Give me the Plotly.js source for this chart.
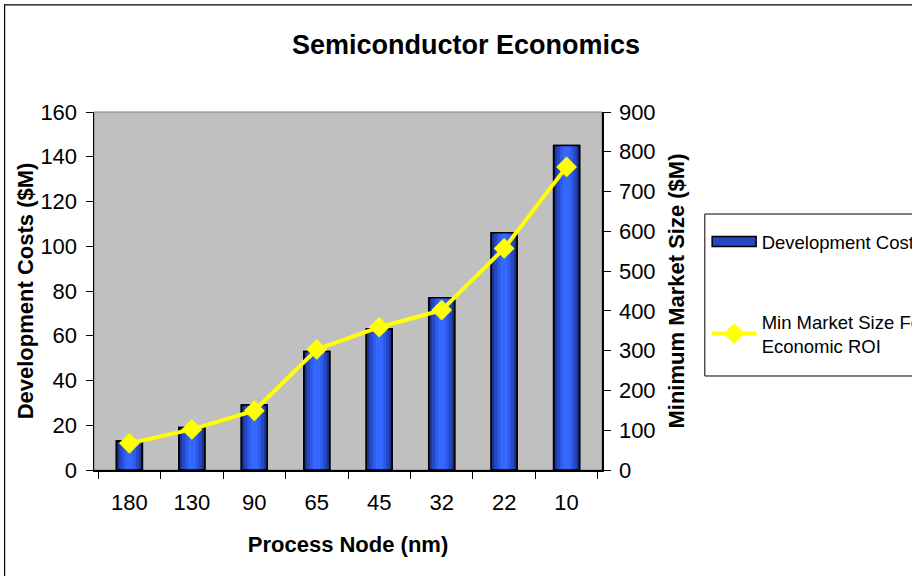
<!DOCTYPE html>
<html>
<head>
<meta charset="utf-8">
<script src="https://cdn.plot.ly/plotly-3.0.1.min.js"></script>
<style>html,body{margin:0;padding:0;background:#fff;}#chart{width:912px;height:576px;}</style>
</head>
<body>
<div id="chart"></div>
<script>
const nodes = ["180", "130", "90", "65", "45", "32", "22", "10"];
const devCosts = [13, 19, 29, 53, 63, 77, 106, 145];
const minMarket = [67, 102, 149, 303, 359, 402, 557, 762];
const yLeftTicks = [0, 20, 40, 60, 80, 100, 120, 140, 160];
const yRightTicks = [0, 100, 200, 300, 400, 500, 600, 700, 800, 900];

const FONT = "Liberation Sans, Arial, sans-serif";

const traces = [
  {type: "bar", x: nodes, y: devCosts, name: "Development Costs", width: 0.415,
   marker: {color: "#1c358f", line: {color: "#000", width: 1.5}}, legendgroup: "a", hoverinfo: "skip"},
  {type: "bar", x: nodes, y: devCosts, width: 0.32, showlegend: false,
   marker: {color: "#2647c4", line: {width: 0}}, hoverinfo: "skip"},
  {type: "bar", x: nodes, y: devCosts, width: 0.22, showlegend: false,
   marker: {color: "#2e5ae8", line: {width: 0}}, hoverinfo: "skip"},
  {type: "bar", x: nodes, y: devCosts, width: 0.12, showlegend: false,
   marker: {color: "#3468ff", line: {width: 0}}, hoverinfo: "skip"},
  {type: "bar", x: nodes, y: devCosts, width: 0.415, showlegend: false,
   marker: {color: "rgba(0,0,0,0)", line: {color: "#000", width: 1.5}}, hoverinfo: "skip"},
  {type: "scatter", mode: "lines+markers", x: nodes, y: minMarket, yaxis: "y2",
   name: "Min Market Size For<br>Economic ROI", legendgroup: "b",
   line: {color: "#ffff00", width: 4},
   marker: {symbol: "diamond", size: 16, color: "#ffff00"}}
];

const layout = {
  width: 912, height: 576,
  paper_bgcolor: "#ffffff", plot_bgcolor: "#c0c0c0",
  margin: {l: 94, r: 310, t: 112, b: 106, autoexpand: false},
  font: {family: FONT, color: "#000"},
  barmode: "overlay",
  title: {text: "<b>Semiconductor Economics</b>", font: {size: 27, family: FONT},
          x: 0.511, xref: "container", xanchor: "center", y: 0.922, yref: "container", yanchor: "middle"},
  xaxis: {type: "category", categoryorder: "array", categoryarray: nodes,
          showline: true, linecolor: "#000", linewidth: 1.5, ticks: "outside", ticklen: 7,
          tickson: "boundaries", tickcolor: "#000", tickfont: {size: 22}, showgrid: false,
          ticklabelstandoff: 12,
          title: {text: "<b>Process Node (nm)</b>", font: {size: 22}, standoff: 22}},
  yaxis: {range: [0, 160], tickvals: yLeftTicks, showline: true, linecolor: "#000", linewidth: 1.5,
          ticks: "outside", ticklen: 7, tickcolor: "#000", tickfont: {size: 22}, showgrid: false,
          zeroline: false, ticklabelstandoff: 4,
          title: {text: "<b>Development Costs ($M)</b>", font: {size: 22}, standoff: 0}},
  yaxis2: {range: [0, 900], tickvals: yRightTicks, overlaying: "y", side: "right",
           showline: true, linecolor: "#000", linewidth: 1.5, ticks: "outside", ticklen: 7,
           tickcolor: "#000", tickfont: {size: 22}, showgrid: false, zeroline: false, ticklabelstandoff: 4,
           title: {text: "<b>Minimum Market Size ($M)</b>", font: {size: 22}, standoff: 14}},
  legend: {x: 1.206, xanchor: "left", y: 0.69, yanchor: "top", bgcolor: "rgba(0,0,0,0)",
           borderwidth: 0, font: {size: 18.5}, traceorder: "grouped", tracegroupgap: 53,
           itemwidth: 45},
  shapes: [
    {type: "rect", xref: "paper", yref: "paper", x0: 0, x1: 1, y0: 0, y1: 1,
     line: {color: "#808080", width: 1}, layer: "below"},
    {type: "rect", xref: "paper", yref: "paper", x0: 1.2024, x1: 2, y0: 0.2626, y1: 0.715,
     line: {color: "#000", width: 1}},
    {type: "rect", xref: "paper", yref: "paper", x0: -0.176, x1: 2, y0: -1, y1: 1.299,
     line: {color: "#000", width: 1.2}}
  ],
  showlegend: true
};

Plotly.newPlot("chart", traces, layout, {displayModeBar: false, staticPlot: true}).then(function (gd) {
  // widen the bar legend swatch to match the reference's wide rectangle
  const item = gd.querySelector(".legend .traces .legendpoints path");
  if (item) {
    item.setAttribute("d", "M22,5H-22V-5H22Z");
    item.style.fill = "#2647c4";
    item.style.stroke = "#000";
    item.style.strokeWidth = "1.5px";
  }
});
</script>
</body>
</html>
